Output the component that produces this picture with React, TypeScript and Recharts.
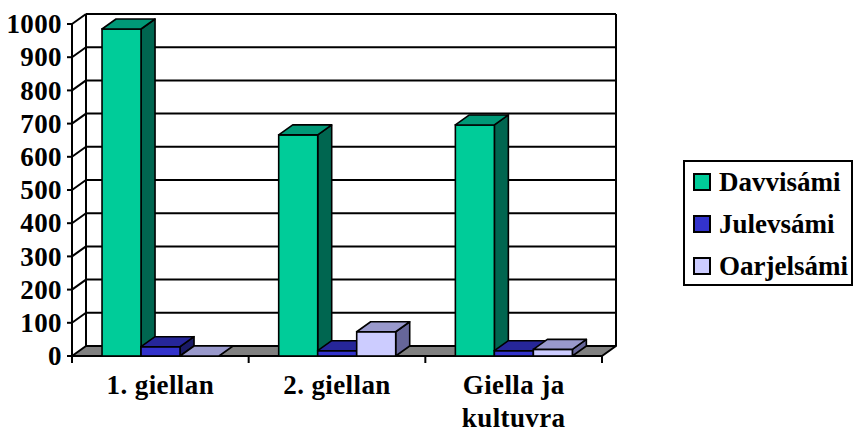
import React from 'react';
import { BarChart, Bar, XAxis, YAxis, CartesianGrid, Legend } from 'recharts';

const categories = ['1. giellan', '2. giellan', 'Giella ja\nkultuvra'];
const davvisami = [985, 666, 696];
const julevsami = [28, 16, 16];
const oarjelsami = [0, 73, 20];
const yTicks = [0, 100, 200, 300, 400, 500, 600, 700, 800, 900, 1000];
const seriesNames = ['Davvisámi', 'Julevsámi', 'Oarjelsámi'];

const data = categories.map((c, i) => ({
  name: c,
  [seriesNames[0]]: davvisami[i],
  [seriesNames[1]]: julevsami[i],
  [seriesNames[2]]: oarjelsami[i],
}));

const DX = 14;
const DY = -10;
const FONT = 'Liberation Serif';
const FS = 27;
const LS = 0.4;

const palette = [
  { front: '#00CC99', top: '#009977', side: '#006650' },
  { front: '#3333CC', top: '#262699', side: '#1A1A66' },
  { front: '#CCCCFF', top: '#9999CC', side: '#666699' },
];

const makeShape = (k: number) => (p: any) => {
  const { x, y, width, height } = p;
  const c = palette[k];
  const h = Math.max(0, height || 0);
  const top = `${x},${y} ${x + width},${y} ${x + width + DX},${y + DY} ${x + DX},${y + DY}`;
  const side = `${x + width},${y} ${x + width + DX},${y + DY} ${x + width + DX},${y + h + DY} ${x + width},${y + h}`;
  return (
    <g>
      {h > 0 && <polygon points={side} fill={c.side} stroke="#000" strokeWidth={1.6} strokeLinejoin="round" />}
      {h > 0 && <rect x={x} y={y} width={width} height={h} fill={c.front} stroke="#000" strokeWidth={1.6} />}
      <polygon points={top} fill={c.top} stroke="#000" strokeWidth={1.6} strokeLinejoin="round" />
    </g>
  );
};

const gridLine = (p: any) => {
  const { x1, y1, x2, x, y, width, height } = p;
  const bottom = y + height;
  const isFloor = Math.abs(y1 - bottom) < 0.5;
  if (isFloor) {
    const n = categories.length;
    const floor = `${x},${bottom} ${x + width},${bottom} ${x + width + DX},${bottom + DY} ${x + DX},${bottom + DY}`;
    return (
      <g key={p.key}>
        <line x1={x + DX} y1={y + DY} x2={x + DX} y2={bottom + DY} stroke="#000" strokeWidth={2} />
        <line x1={x + width + DX} y1={y + DY} x2={x + width + DX} y2={bottom + DY} stroke="#000" strokeWidth={2} />
        <polygon points={floor} fill="#808080" stroke="#000" strokeWidth={2} strokeLinejoin="round" />
        {Array.from({ length: n + 1 }).map((_, k) => {
          const bx = x + (k * width) / n;
          return <line key={k} x1={bx} y1={bottom} x2={bx} y2={bottom + 7} stroke="#000" strokeWidth={2} />;
        })}
      </g>
    );
  }
  return (
    <g key={p.key}>
      <line x1={x1} y1={y1} x2={x1 + DX} y2={y1 + DY} stroke="#000" strokeWidth={2} />
      <line x1={x1 + DX} y1={y1 + DY} x2={x2 + DX} y2={y1 + DY} stroke="#000" strokeWidth={2} />
    </g>
  );
};

const XTick = (p: any) => {
  const lines = String(p.payload.value).split('\n');
  return (
    <g>
      {lines.map((l, i) => (
        <text
          key={i}
          x={p.x}
          y={p.y + 30 + i * 33}
          textAnchor="middle"
          style={{ fontFamily: FONT, fontWeight: 700, fontSize: FS, letterSpacing: LS }}
          fill="#000"
        >
          {l}
        </text>
      ))}
    </g>
  );
};

const YTick = (p: any) => (
  <text
    x={p.x}
    y={p.y}
    dy="0.34em"
    textAnchor="end"
    style={{ fontFamily: FONT, fontWeight: 700, fontSize: FS, letterSpacing: LS }}
    fill="#000"
  >
    {p.payload.value}
  </text>
);

const LegendContent = (props: any) => {
  const payload = props.payload || [];
  return (
    <div
      style={{
        position: 'relative',
        width: 170,
        height: 126,
        border: '2px solid #000',
        boxSizing: 'border-box',
        background: '#fff',
        fontFamily: FONT,
        fontWeight: 700,
        fontSize: FS,
        letterSpacing: 0,
        color: '#000',
      }}
    >
      {payload.map((e: any, i: number) => (
        <div key={i} style={{ position: 'absolute', left: 0, top: 20 + 42 * i - 21, height: 42, width: 168 }}>
          <div
            style={{
              position: 'absolute',
              left: 8,
              top: 12,
              width: 18,
              height: 18,
              boxSizing: 'border-box',
              border: '2px solid #000',
              background: e.color,
            }}
          />
          <div style={{ position: 'absolute', left: 34, top: 0, lineHeight: '42px', whiteSpace: 'nowrap' }}>{e.value}</div>
        </div>
      ))}
    </div>
  );
};

export default function App() {
  return (
    <div style={{ position: 'absolute', left: 0, top: 0 }}>
      <BarChart
        width={854}
        height={432}
        data={data}
        margin={{ top: 24, right: 82, bottom: 6, left: 0 }}
        barCategoryGap="17%"
        barGap={0}
      >
        <CartesianGrid horizontal={gridLine} vertical={false} />
        <XAxis dataKey="name" axisLine={false} tickLine={false} height={70} tick={<XTick />} interval={0} />
        <YAxis
          domain={[0, 1000]}
          ticks={yTicks}
          width={72}
          axisLine={{ stroke: '#000', strokeWidth: 2 }}
          tickLine={{ stroke: '#000', strokeWidth: 2 }}
          tickSize={5}
          tickMargin={5}
          tick={<YTick />}
          interval={0}
        />
        <Legend
          layout="vertical"
          align="right"
          verticalAlign="middle"
          content={<LegendContent />}
          wrapperStyle={{ position: 'absolute', left: 683, top: 160, width: 170, height: 126 }}
        />
        {seriesNames.map((s, k) => (
          <Bar key={s} dataKey={s} fill={palette[k].front} isAnimationActive={false} shape={makeShape(k)} />
        ))}
      </BarChart>
    </div>
  );
}
